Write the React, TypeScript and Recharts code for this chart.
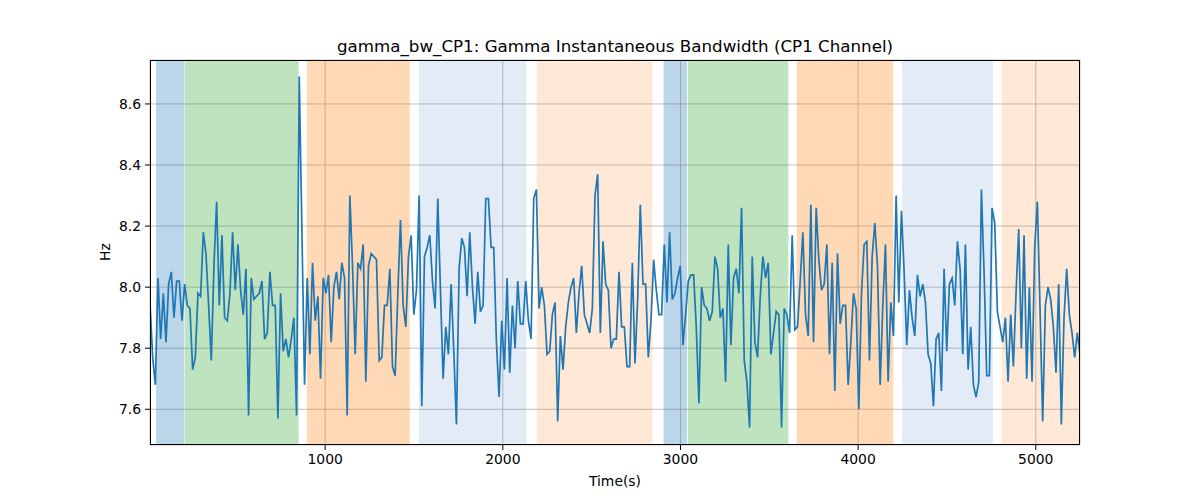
import {
  ComposedChart, Line, XAxis, YAxis, CartesianGrid, ReferenceArea,
} from 'recharts'

// sample grid of the bandwidth trace (s)
const T0 = 14
const STEP = 15

const gammaBw = [
  7.95, 7.77, 7.68, 8.03, 7.83, 7.98, 7.82, 8.01, 8.05, 7.90, 8.02, 8.02, 7.89, 8.01, 7.94, 7.93,
  7.73, 7.77, 7.98, 7.97, 8.18, 8.11, 7.94, 7.76, 8.07, 8.28, 7.94, 8.17, 7.90, 7.89, 7.98, 8.18,
  7.99, 8.14, 7.99, 7.91, 8.06, 7.58, 8.03, 7.96, 7.97, 7.98, 8.02, 7.83, 7.85, 8.05,
  7.94, 7.94, 7.57, 7.98, 7.79, 7.83, 7.77, 7.83, 7.90, 7.58, 8.69, 8.19, 7.68, 8.03, 7.78, 8.08,
  7.89, 7.97, 7.70, 8.03, 7.98, 8.04, 7.82, 8.00, 8.05, 7.96, 8.08, 8.03, 7.58, 8.30, 8.07, 7.78,
  8.08, 8.06, 8.14, 7.69, 8.07, 8.11, 8.10, 8.09, 7.76, 7.77, 7.94, 7.94, 8.06,
  7.74, 7.71, 7.98, 8.22, 7.94, 7.87, 8.10, 8.17, 7.91, 7.99, 8.30, 7.61, 8.10, 8.13, 8.17, 8.02,
  7.93, 8.29, 7.99, 7.70, 7.87, 7.78, 8.01, 7.79, 7.55, 8.06, 8.16, 8.13, 7.97, 8.18, 8.00, 7.88,
  8.05, 7.92, 7.94, 8.29, 8.29, 8.13, 8.13, 7.82, 7.64, 7.89, 7.73, 8.03, 7.72,
  7.94, 7.80, 8.02, 7.88, 7.88, 8.02, 7.89, 7.83, 8.29, 8.32, 7.93, 8.00, 7.94, 7.78, 7.79, 7.91,
  7.95, 7.56, 7.84, 7.73, 7.87, 7.95, 8.00, 8.03, 7.85, 7.98, 8.07, 7.91, 7.88, 7.85, 7.93, 8.30,
  8.37, 7.85, 8.15, 8.01, 7.99, 7.80, 7.83, 7.83, 8.05, 7.87, 7.87, 7.74, 7.74,
  8.08, 7.75, 7.96, 8.27, 8.01, 8.01, 7.77, 7.89, 8.09, 7.99, 7.91, 7.91, 8.14, 7.95, 8.18, 7.96,
  7.98, 8.03, 8.07, 7.81, 7.91, 8.02, 8.04, 8.04, 7.87, 7.62, 8.00, 7.94, 7.93, 7.89, 7.92, 8.10,
  8.06, 7.90, 7.93, 7.69, 8.14, 7.81, 8.03, 8.06, 7.98, 8.26, 7.76, 7.69, 7.54,
  8.10, 7.82, 7.77, 7.97, 8.10, 8.03, 8.08, 7.78, 7.85, 7.92, 7.91, 7.54, 7.93, 7.91, 7.85, 8.17,
  7.86, 7.87, 8.02, 8.18, 7.91, 7.84, 8.27, 7.82, 8.26, 8.09, 7.99, 8.01, 8.14, 7.78, 8.08, 7.66,
  8.11, 7.88, 7.94, 7.94, 7.68, 7.82, 7.98, 7.93, 7.60, 7.98, 8.14, 8.15, 7.76,
  8.10, 8.21, 8.07, 7.68, 7.94, 8.14, 7.69, 7.95, 7.84, 8.30, 7.95, 8.25, 8.05, 7.81, 7.99, 7.90,
  7.84, 8.04, 7.97, 8.01, 7.95, 7.78, 7.75, 7.61, 7.83, 7.85, 7.66, 8.06, 7.79, 8.01, 8.03, 7.94,
  8.15, 8.06, 7.78, 8.14, 7.73, 7.87, 7.68, 7.64, 7.69, 8.32, 8.05, 7.71, 7.71,
  8.26, 8.21, 7.92, 7.87, 7.82, 7.90, 7.69, 7.91, 7.74, 7.98, 8.19, 7.80, 8.17, 7.70, 8.00, 7.69,
  8.13, 8.28, 7.93, 7.56, 7.94, 8.00, 7.96, 7.87, 7.72, 8.01, 7.55, 7.90, 8.06, 7.91, 7.85, 7.77,
  7.85, 7.78,
]

// shaded stages: [start, end, colour, opacity]
const stages: [number, number, string, number][] = [
  [48, 207, '#1f77b4', 0.3],
  [210, 850, '#2ca02c', 0.3],
  [897, 1476, '#ff7f0e', 0.3],
  [1527, 2133, '#447ac3', 0.15],
  [2191, 2842, '#ff7f0e', 0.17],
  [2905, 3037, '#1f77b4', 0.3],
  [3042, 3607, '#2ca02c', 0.3],
  [3654, 4198, '#ff7f0e', 0.3],
  [4248, 4758, '#447ac3', 0.15],
  [4807, 5249, '#ff7f0e', 0.17],
]

const xTicks = [1000, 2000, 3000, 4000, 5000]
const yTicks = [7.6, 7.8, 8.0, 8.2, 8.4, 8.6]

const chartData = gammaBw.map((v, i) => ({ t: T0 + i * STEP, bw: v }))

const font = '"DejaVu Sans", sans-serif'

export default function App() {
  return (
    <div style={{ position: 'relative', width: 1200, height: 500, background: '#fff', fontFamily: font }}>
      <style>{'body{margin:0}'}</style>
      <div style={{ position: 'absolute', left: 150, width: 930, top: 36, lineHeight: '20px', fontSize: 16.7, textAlign: 'center', color: '#000' }}>
        gamma_bw_CP1: Gamma Instantaneous Bandwidth (CP1 Channel)
      </div>
      <ComposedChart width={1200} height={500} data={chartData} margin={{ top: 60, right: 120, bottom: 25, left: 0 }}>
        <CartesianGrid stroke="#b0b0b0" strokeWidth={0.8} />
        {stages.map(([a, b, c, o], i) => (
          <ReferenceArea key={i} x1={a} x2={b} fill={c} fillOpacity={o} stroke="none" ifOverflow="hidden" />
        ))}
        <XAxis
          dataKey="t" type="number" domain={[T0, 5249]} ticks={xTicks} allowDataOverflow
          height={30} tickSize={5} tickMargin={4} axisLine={false} stroke="#000"
          tick={{ fill: '#000', fontSize: 13.9, fontFamily: font }}
        />
        <YAxis
          type="number" domain={[7.483, 8.744]} ticks={yTicks} allowDataOverflow
          width={150} tickSize={5} tickMargin={4} axisLine={false} stroke="#000"
          tickFormatter={(v: number) => v.toFixed(1)}
          tick={{ fill: '#000', fontSize: 13.9, fontFamily: font }}
        />
        <Line dataKey="bw" stroke="#1f77b4" strokeWidth={1.7} dot={false} isAnimationActive={false} />
      </ComposedChart>
      <div style={{ position: 'absolute', left: 150, top: 60, width: 930, height: 385, boxSizing: 'border-box', border: '1px solid #000', pointerEvents: 'none' }} />
      <div style={{ position: 'absolute', left: 150, width: 930, top: 471, lineHeight: '20px', fontSize: 13.9, textAlign: 'center', color: '#000' }}>
        Time(s)
      </div>
      <div style={{ position: 'absolute', left: 65, top: 242, width: 80, lineHeight: '20px', fontSize: 13.9, textAlign: 'center', color: '#000', transform: 'rotate(-90deg)' }}>
        Hz
      </div>
    </div>
  )
}
